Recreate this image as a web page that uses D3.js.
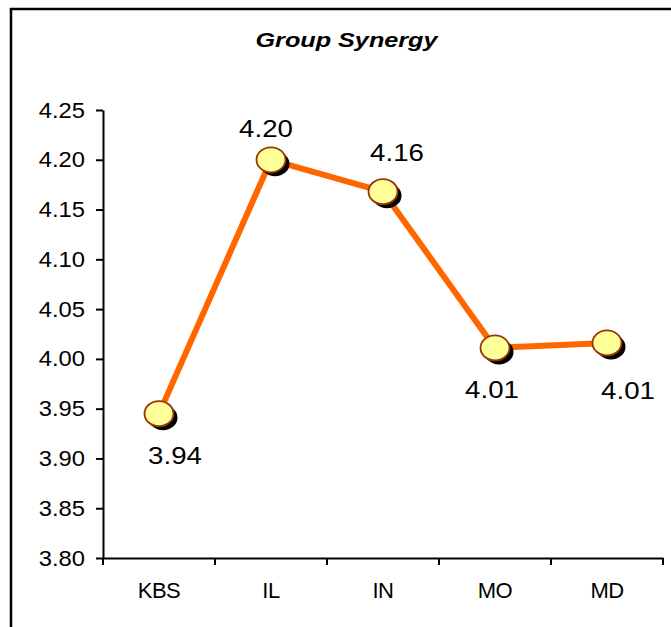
<!DOCTYPE html>
<html>
<head>
<meta charset="utf-8">
<script src="https://cdn.jsdelivr.net/npm/d3@7"></script>
<style>
  html, body { margin: 0; padding: 0; background: #fff; }
  svg { display: block; font-family: "Liberation Sans", Arial, sans-serif; }
</style>
</head>
<body>
<svg id="chart" width="671" height="627"></svg>
<script>
// ---- data ----
const title = "Group Synergy";
const categories = ["KBS", "IL", "IN", "MO", "MD"];
const values = [3.945, 4.200, 4.168, 4.011, 4.016];
const valueLabels = ["3.94", "4.20", "4.16", "4.01", "4.01"];
const labelSide = ["below", "above", "above", "below", "below"];
const yTicks = [3.80, 3.85, 3.90, 3.95, 4.00, 4.05, 4.10, 4.15, 4.20, 4.25];

// ---- layout ----
const W = 671, H = 627;
const plot = { left: 103, right: 663, top: 110, bottom: 558 };

const svg = d3.select("#chart");
svg.append("rect").attr("width", W).attr("height", H).attr("fill", "#fff");

// outer frame
svg.append("rect")
  .attr("x", 11).attr("y", 9).attr("width", 700).attr("height", 700)
  .attr("fill", "none").attr("stroke", "#000").attr("stroke-width", 2.5);

const x = d3.scaleBand().domain(categories).range([plot.left, plot.right]).padding(0);
const y = d3.scaleLinear().domain([3.80, 4.25]).range([plot.bottom, plot.top]);

function stretch(sel, factor) {
  sel.each(function () {
    const w = this.getComputedTextLength();
    d3.select(this).attr("textLength", w * factor).attr("lengthAdjust", "spacingAndGlyphs");
  });
}

// title
const t = svg.append("text")
  .attr("x", (255 + 438) / 2).attr("y", 47)
  .attr("text-anchor", "middle")
  .attr("font-size", 21).attr("font-weight", "bold").attr("font-style", "italic")
  .attr("fill", "#000")
  .text(title);
stretch(t, 1.2);

// y axis
const yAxis = svg.append("g")
  .attr("transform", `translate(${plot.left},0)`)
  .call(d3.axisLeft(y).tickValues(yTicks).tickFormat(d3.format(".2f"))
    .tickSize(7).tickSizeOuter(0).tickPadding(11));
yAxis.selectAll("path, line").attr("stroke", "#000").attr("stroke-width", 2);
yAxis.selectAll("text").attr("font-size", 22).attr("font-family", "Liberation Sans, Arial, sans-serif").attr("fill", "#000");
stretch(yAxis.selectAll("text"), 1.08);

// x axis (labels at band centres, ticks at band edges)
const xAxis = svg.append("g")
  .attr("transform", `translate(0,${plot.bottom})`)
  .call(d3.axisBottom(x).tickSize(0).tickSizeOuter(0).tickPadding(24));
xAxis.select("path").attr("stroke", "#000").attr("stroke-width", 2);
xAxis.selectAll("text").attr("font-size", 22).attr("font-family", "Liberation Sans, Arial, sans-serif")
  .attr("fill", "#000").attr("letter-spacing", -0.5);
const edges = categories.map(c => x(c)).concat([x.range()[1]]);
xAxis.selectAll("line.edge").data(edges).join("line")
  .attr("class", "edge")
  .attr("x1", d => d).attr("x2", d => d)
  .attr("y1", 0).attr("y2", 7)
  .attr("stroke", "#000").attr("stroke-width", 2);

// data
const pts = categories.map((c, i) => ({ c, v: values[i], label: valueLabels[i], side: labelSide[i] }));
const cx = d => x(d.c) + x.bandwidth() / 2;

svg.append("path")
  .datum(pts)
  .attr("fill", "none")
  .attr("stroke", "#ff6600")
  .attr("stroke-width", 6)
  .attr("stroke-linejoin", "round")
  .attr("d", d3.line().x(cx).y(d => y(d.v)));

// markers: shadow + yellow ellipse
svg.selectAll("ellipse.shadow").data(pts).join("ellipse")
  .attr("class", "shadow")
  .attr("cx", d => cx(d) + 4).attr("cy", d => y(d.v) + 4)
  .attr("rx", 14.5).attr("ry", 12.5)
  .attr("fill", "#000");
svg.selectAll("ellipse.marker").data(pts).join("ellipse")
  .attr("class", "marker")
  .attr("cx", cx).attr("cy", d => y(d.v))
  .attr("rx", 14.5).attr("ry", 12.5)
  .attr("fill", "#ffff99")
  .attr("stroke", "#993300").attr("stroke-width", 1.8);

// value labels (small nudges, as in the reference)
const nudge = { KBS: [16, 0], IL: [-5, 0], IN: [14, -8], MO: [-3, 0], MD: [21, 6] };
const lbl = svg.selectAll("text.val").data(pts).join("text")
  .attr("class", "val")
  .attr("text-anchor", "middle")
  .attr("font-size", 24)
  .attr("fill", "#000")
  .attr("x", d => cx(d) + nudge[d.c][0])
  .attr("y", d => y(d.v) + (d.side === "above" ? -23 : 50) + nudge[d.c][1])
  .text(d => d.label);
stretch(lbl, 1.15);
</script>
</body>
</html>
